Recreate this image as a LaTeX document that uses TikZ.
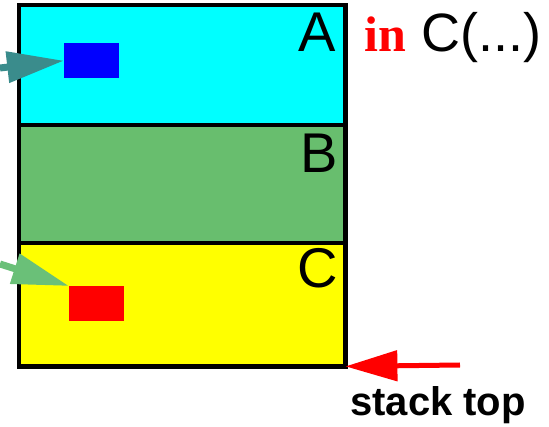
\documentclass[tikz,border=0pt]{standalone}
\usepackage{fontspec}
\setmainfont{Liberation Sans}
\newfontfamily\serifbold{Liberation Serif}
\usetikzlibrary{arrows.meta}
\definecolor{cyanA}{RGB}{0,255,255}
\definecolor{greenB}{RGB}{104,190,110}
\definecolor{yellowC}{RGB}{255,255,0}
\definecolor{tealarrow}{RGB}{58,140,140}
\definecolor{greenarrow}{RGB}{106,192,120}
\begin{document}
\begin{tikzpicture}[x=1pt,y=-1pt,
  section/.style={draw=none,inner sep=0pt,minimum width=326pt},
  slot/.style={draw=none,inner sep=0pt,minimum width=55pt,minimum height=35pt},
  letter/.style={font=\fontsize{56}{56}\selectfont,inner sep=0pt,anchor=base east},
  frame/.style={line width=4.5pt},
  ptr/.style={line width=7pt,-{Triangle[length=57pt,width=30pt]}}]
\useasboundingbox (0,0) rectangle (549,427);
% sections
\node[section,fill=cyanA,minimum height=120pt,anchor=north west] (secA) at (19,5) {};
\node[section,fill=greenB,minimum height=118pt,anchor=north west] (secB) at (19,125) {};
\node[section,fill=yellowC,minimum height=123pt,anchor=north west] (secC) at (19,243) {};
% frame
\draw[frame] (secA.north west) rectangle (secC.south east);
\draw[frame] (secB.north west) -- (secB.north east);
\draw[frame] (secC.north west) -- (secC.north east);
% slots
\node[slot,fill=blue,anchor=north west] (blueslot) at (64,43) {};
\node[slot,fill=red,anchor=north west] (redslot) at (69,286) {};
% letters
\node[letter] (la) at (336,52) {A};
\node[letter] (lb) at (338,173) {B};
\node[letter] (lc) at (338,288) {C};
% title
\node[anchor=base west,inner sep=0pt,text=red,font=\serifbold\bfseries\fontsize{50}{50}\selectfont] (in) at (364,52) {in};
\node[anchor=base west,inner sep=0pt,font=\fontsize{54}{54}\selectfont] (call) at (421,52) {C(...)};
% pointers
\coordinate (tA) at (0,68);
\coordinate (tC) at (0,264);
\draw[ptr,tealarrow] (tA) -- (blueslot.west);
\draw[ptr,greenarrow] (tC) -- (redslot.north west);
% stack top
\coordinate (st) at (460,365);
\draw[red,line width=5pt,-{Triangle[length=52pt,width=30pt]}] (st) -- (secC.south east);
\node[anchor=base west,inner sep=0pt,font=\bfseries\fontsize{40}{40}\selectfont] (stl) at (350,416) {stack top};
\end{tikzpicture}
\end{document}
